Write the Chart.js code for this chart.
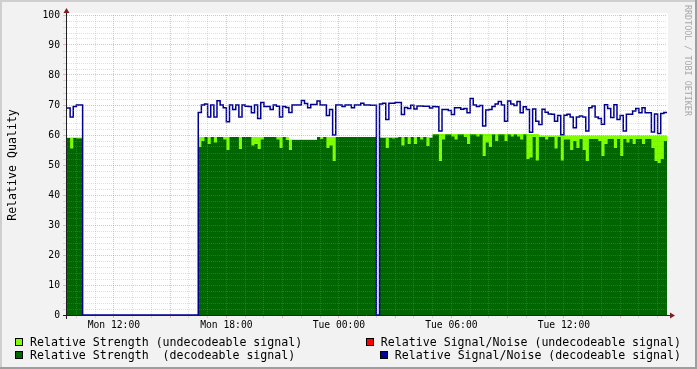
<!DOCTYPE html>
<html>
<head>
<meta charset="utf-8">
<script src="https://cdn.jsdelivr.net/npm/chart.js@4.4.1/dist/chart.umd.min.js"></script>
<style>
  body { margin: 0; }
  #wrap {
    position: relative; width: 697px; height: 369px; overflow: hidden;
    background: #f2f2f2; font-family: "DejaVu Sans Mono", monospace; color: #000;
  }
  #chart { position: absolute; left: 0; top: 0; }
  .shade { position: absolute; }
  .ytitle {
    position: absolute; left: 12px; top: 165px; font-size: 11.6px; white-space: nowrap;
    transform: translate(-50%, -50%) rotate(-90deg);
  }
  .mark {
    position: absolute; left: 693px; top: 5px; font-size: 8.4px; line-height: 10px;
    color: #a8a8a8; white-space: nowrap; transform-origin: 0 0; transform: rotate(90deg);
  }
  .item {
    position: absolute; height: 13px; display: flex; align-items: center;
    font-size: 11.6px; white-space: pre;
  }
  .box { width: 6px; height: 6px; border: 1px solid #000; margin-right: 7px; }
</style>
</head>
<body>
<div id="wrap">
  <canvas id="chart" width="697" height="369"></canvas>
  <div class="shade" style="left:0;top:0;width:697px;height:2px;background:#cfcfcf"></div>
  <div class="shade" style="left:0;top:0;width:2px;height:369px;background:#cfcfcf"></div>
  <div class="shade" style="left:0;top:367px;width:697px;height:2px;background:#9e9e9e"></div>
  <div class="shade" style="left:695px;top:0;width:2px;height:369px;background:#9e9e9e"></div>
  <div class="ytitle">Relative Quality</div>
  <div class="mark">RRDTOOL / TOBI OETIKER</div>
  <div id="legend"></div>
</div>
<script>
// 10 minute samples starting Mon 09:30 (hours counted from Mon 00:00)
const startHour = 9.5;
const stepHours = 1 / 6;

// Relative Signal/Noise (decodeable signal)
const snDecodeable = [
  69, 66, 69.5, 70, 70,
  0, 0, 0, 0, 0, 0, 0, 0, 0, 0, 0, 0, 0, 0, 0, 0, 0, 0, 0, 0, 0, 0, 0, 0, 0, 0, 0, 0, 0, 0, 0, 0, 0, 0, 0, 0, 0,
  67.5, 70, 70.3, 66, 70, 66, 71.4, 70, 69.1, 64.4,
  70, 68.5, 70, 66, 70, 69.6, 69.5, 67.4, 70, 65.5,
  70.8, 69.5, 69.5, 68.5, 70, 69.6, 66, 69.5, 69.2, 67.5,
  70, 70, 70, 71.5, 70.5, 69.1, 70.2, 70.2, 71.3, 70,
  70, 66.5, 68.5, 60, 70, 70, 69.5, 70, 70, 69.1,
  70, 70, 70.6, 70, 70, 69.9, 69.9,
  0,
  70.3, 70.6, 65.2, 70.6, 70.6, 70.8, 70.8, 66.8, 69.2, 68.8,
  69.9, 68.7, 69.7, 69.7, 69.6, 69.6, 69.0, 69.5, 69.4, 61.3,
  68.5, 68.5, 68.2, 66.8, 69.1, 69.1, 68.6, 68.8, 67.4, 72.2,
  70, 69.5, 69.8, 63, 68.3, 68.5, 69.5, 70.3, 71.2, 70,
  64.6, 71.3, 70.3, 69.8, 71.2, 67.4, 69.4, 68.5, 60.9, 68.7,
  64.6, 63.5, 68.6, 67.6, 67, 66.9, 64.6, 66.5, 60.1, 66.6,
  66.9, 66.0, 62.4, 66.0, 66.3, 66.0, 61.3, 69.1, 69.7, 66.0,
  65.5, 63.6, 70.1, 68.8, 65.8, 70.1, 65.2, 66.5, 61.3, 66.9,
  66.9, 68.0, 68.8, 67.4, 69.1, 67.4, 67.4, 61, 67, 60.5,
  67.2, 67.5, 67.5
];

// Relative Strength (decodeable signal)
const strengthDecodeable = [
  59, 55.5, 59, 58.8, 58.8,
  0, 0, 0, 0, 0, 0, 0, 0, 0, 0, 0, 0, 0, 0, 0, 0, 0, 0, 0, 0, 0, 0, 0, 0, 0, 0, 0, 0, 0, 0, 0, 0, 0, 0, 0, 0, 0,
  56, 58, 59.3, 57, 59.3, 57.5, 59.3, 59.3, 58.5, 55,
  59.3, 59.3, 59.3, 55.3, 59.3, 59.3, 59.3, 56.5, 57, 55.3,
  58.5, 59.3, 59.3, 59.3, 59.3, 58.5, 55.7, 59.3, 58.3, 55,
  58.3, 58.3, 58.3, 58.3, 58.3, 58.3, 58.3, 58.3, 59.3, 58.7,
  59.3, 55.7, 56.5, 51.3, 59.3, 59.3, 59.3, 59.3, 59.3, 59.3,
  59.3, 59.3, 59.3, 59.3, 59.3, 59.3, 59.3,
  0,
  59, 59, 55.7, 59, 58.8, 59, 59.3, 56.5, 59.3, 57,
  59.3, 57, 59.3, 58.5, 59.3, 56.3, 59, 60.2, 60.2, 51.3,
  58.5, 60.2, 60.2, 59.5, 58.5, 60.2, 60.2, 59.3, 57, 60.2,
  60.2, 59.5, 60.2, 53, 57.5, 56, 60.2, 58, 60.2, 60.2,
  58, 60.2, 59.5, 60.2, 59.5, 58.5, 60.2, 52, 52.5, 59.3,
  51.5, 59.3, 59.3, 58.5, 59.3, 59.3, 55.5, 59.3, 51.5, 58.5,
  58.5, 55, 58, 55.7, 58.7, 55, 51.3, 58.7, 58.7, 58.7,
  58, 53, 57, 58.7, 58.7, 55.7, 58.7, 53, 58.7, 57.5,
  58.7, 57, 58.7, 58.7, 57, 58.7, 58.7, 55.7, 51.3, 50.7,
  52, 58, 58
];

// Relative Strength (undecodeable signal)
const strengthUndecodeable = [
  59.2, 59.2, 59.2, 59.2, 59.2,
  0, 0, 0, 0, 0, 0, 0, 0, 0, 0, 0, 0, 0, 0, 0, 0, 0, 0, 0, 0, 0, 0, 0, 0, 0, 0, 0, 0, 0, 0, 0, 0, 0, 0, 0, 0, 0,
  59.3, 59.3, 59.3, 59.3, 59.3, 59.3, 59.3, 59.3, 59.3, 59.3,
  59.3, 59.3, 59.3, 59.3, 59.3, 59.3, 59.3, 59.3, 59.3, 59.3,
  59.3, 59.3, 59.3, 59.3, 59.3, 59.3, 59.3, 59.3, 59.3, 58.5,
  58.5, 58.5, 58.5, 58.5, 58.5, 58.5, 58.5, 58.5, 59.3, 59.3,
  59.3, 59.3, 59.3, 59.3, 59.3, 59.3, 59.3, 59.3, 59.3, 59.3,
  59.3, 59.3, 59.3, 59.3, 59.3, 59.3, 59.3,
  0,
  59.3, 59.3, 59.3, 59.3, 59.3, 59.3, 59.3, 59.3, 59.3, 59.3,
  59.3, 59.3, 59.3, 59.3, 59.3, 59.3, 59.3, 60.3, 60.3, 60.3,
  60.3, 60.3, 60.3, 60.3, 60.3, 60.3, 60.3, 60.3, 60.3, 60.3,
  60.3, 60.3, 60.3, 60.3, 60.3, 60.3, 60.3, 60.3, 60.3, 60.3,
  60.3, 60.3, 60.3, 60.3, 60.3, 60.3, 60.3, 60.3, 60.3, 60.3,
  60.3, 59.8, 59.8, 59.8, 59.8, 59.8, 59.8, 59.8, 59.8, 59.8,
  59.8, 59.8, 59.8, 59.8, 59.8, 59.8, 59.8, 59.8, 59.8, 59.8,
  59.8, 59.8, 59.8, 59.8, 59.8, 59.8, 59.8, 59.8, 59.8, 59.8,
  59.8, 59.8, 59.8, 59.8, 59.8, 59.8, 59.8, 59.8, 59.8, 59.8,
  59.8, 59.8, 59.8
];

// Relative Signal/Noise (undecodeable signal) - nothing recorded in this window
const snUndecodeable = [];

const xLabelHours = [12, 18, 24, 30, 36];
const xTickLabels = ["Mon 12:00", "Mon 18:00", "Tue 00:00", "Tue 06:00", "Tue 12:00"];

const legendItems = [
  { text: "Relative Strength (undecodeable signal)", color: "#80ff00", left: 15, top: 335 },
  { text: "Relative Strength  (decodeable signal)", color: "#006600", left: 15, top: 348 },
  { text: "Relative Signal/Noise (undecodeable signal)", color: "#ff0000", right: 16, top: 335 },
  { text: "Relative Signal/Noise (decodeable signal)", color: "#000099", right: 16, top: 348 }
];

const minorGrid = "rgba(150,150,150,0.3)";
const majorGrid = "rgba(222,79,79,0.4)";

const toPoints = arr => arr.map((v, i) => ({ x: startHour + i * stepHours, y: v }));

// legend
const legend = document.getElementById("legend");
legendItems.forEach(it => {
  const d = document.createElement("div");
  d.className = "item";
  d.style.top = it.top + "px";
  if (it.left !== undefined) d.style.left = it.left + "px";
  else d.style.right = it.right + "px";
  d.innerHTML = `<span class="box" style="background:${it.color}"></span><span>${it.text}</span>`;
  legend.appendChild(d);
});

// white canvas behind the plot, axes and arrows on top
const rrdFrame = {
  id: "rrdFrame",
  beforeDraw(chart) {
    const { ctx, chartArea: a } = chart;
    ctx.save();
    ctx.fillStyle = "#ffffff";
    ctx.fillRect(a.left, a.top - 2, a.right - a.left + 1, a.bottom - a.top + 2);
    ctx.restore();
  },
  afterDraw(chart) {
    const { ctx, chartArea: a } = chart;
    const ax = a.left - 0.5, ay = a.bottom + 0.5;
    ctx.save();
    ctx.strokeStyle = "#1f1f1f";
    ctx.lineWidth = 1;
    ctx.beginPath();
    ctx.moveTo(a.left - 4, ay);
    ctx.lineTo(a.right + 3, ay);
    ctx.moveTo(ax, a.bottom + 4);
    ctx.lineTo(ax, a.top - 3);
    ctx.stroke();
    ctx.fillStyle = "#801f1f";
    ctx.beginPath();
    ctx.moveTo(a.right + 8, ay);
    ctx.lineTo(a.right + 3, ay - 3);
    ctx.lineTo(a.right + 3, ay + 3);
    ctx.closePath();
    ctx.moveTo(ax, a.top - 7);
    ctx.lineTo(ax - 3, a.top - 2);
    ctx.lineTo(ax + 3, a.top - 2);
    ctx.closePath();
    ctx.fill();
    ctx.restore();
  }
};

const tickFont = { family: "DejaVu Sans Mono", size: 9.7 };

new Chart(document.getElementById("chart"), {
  type: "line",
  data: {
    datasets: [
      {
        label: "Relative Signal/Noise (decodeable signal)",
        data: toPoints(snDecodeable),
        borderColor: "#000090",
        borderWidth: 1.5,
        stepped: true,
        fill: false,
        order: 0
      },
      {
        label: "Relative Strength  (decodeable signal)",
        data: toPoints(strengthDecodeable),
        backgroundColor: "#006600",
        borderColor: "rgba(0,0,0,0)",
        borderWidth: 0,
        stepped: true,
        fill: "origin",
        order: 1
      },
      {
        label: "Relative Strength (undecodeable signal)",
        data: toPoints(strengthUndecodeable),
        backgroundColor: "#80ff00",
        borderColor: "rgba(0,0,0,0)",
        borderWidth: 0,
        stepped: true,
        fill: "origin",
        order: 2
      },
      {
        label: "Relative Signal/Noise (undecodeable signal)",
        data: toPoints(snUndecodeable),
        borderColor: "#ff0000",
        borderWidth: 1.2,
        stepped: true,
        order: 3
      }
    ]
  },
  options: {
    responsive: false,
    animation: false,
    devicePixelRatio: 1,
    layout: { padding: { top: 15, right: 30, bottom: 0, left: 0 } },
    elements: { point: { radius: 0 } },
    plugins: { legend: { display: false }, tooltip: { enabled: false } },
    scales: {
      x: {
        type: "linear",
        min: startHour,
        max: startHour + 32,
        afterBuildTicks: scale => {
          const ticks = [];
          for (let h = 10; h <= 41; h++) ticks.push({ value: h });
          scale.ticks = ticks;
        },
        afterFit: scale => { scale.height = 54; },
        border: { display: false, dash: [1, 1] },
        grid: {
          z: 1,
          color: ctx => (ctx.tick && ctx.tick.value % 3 === 0 ? majorGrid : minorGrid),
          tickColor: ctx => (ctx.tick && ctx.tick.value % 3 === 0 ? majorGrid : minorGrid),
          tickLength: 3
        },
        ticks: {
          autoSkip: false,
          maxRotation: 0,
          padding: 2,
          color: "#000",
          font: tickFont,
          callback: value => {
            const k = xLabelHours.indexOf(value);
            return k >= 0 ? xTickLabels[k] : "";
          }
        }
      },
      y: {
        min: 0,
        max: 100,
        afterBuildTicks: scale => {
          const ticks = [];
          for (let v = 0; v <= 100; v += 2) ticks.push({ value: v });
          scale.ticks = ticks;
        },
        afterFit: scale => { scale.width = 67; },
        border: { display: false, dash: [1, 1] },
        grid: {
          z: 1,
          color: ctx => (ctx.tick && ctx.tick.value % 10 === 0 ? majorGrid : minorGrid),
          tickColor: ctx => (ctx.tick && ctx.tick.value % 10 === 0 ? majorGrid : minorGrid),
          tickLength: 4
        },
        ticks: {
          autoSkip: false,
          padding: 3,
          color: "#000",
          font: tickFont,
          callback: value => (value % 10 === 0 ? value : "")
        }
      }
    }
  },
  plugins: [rrdFrame]
});
</script>
</body>
</html>
